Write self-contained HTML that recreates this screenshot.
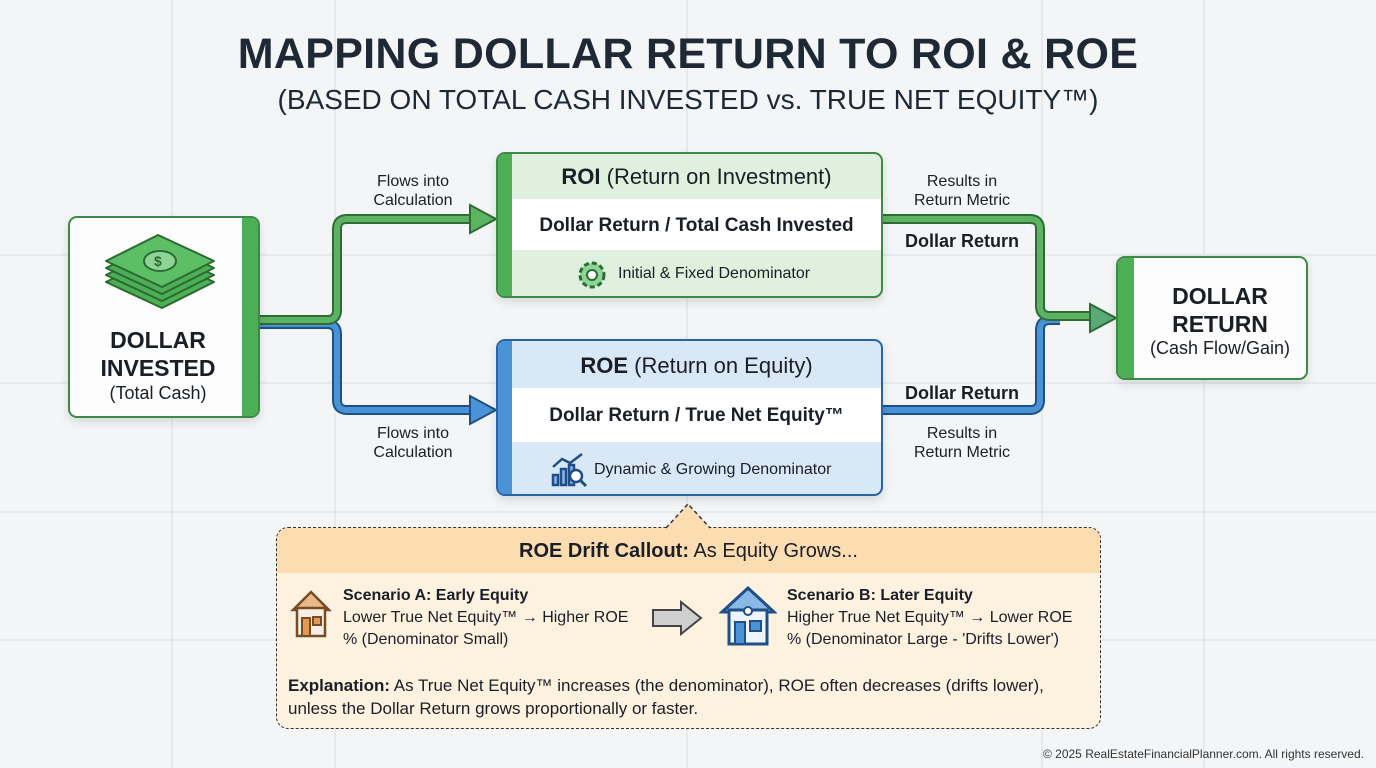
<!DOCTYPE html>
<html><head><meta charset="utf-8">
<style>
*{margin:0;padding:0;box-sizing:border-box}
body{width:1376px;height:768px;overflow:hidden;background:#f3f5f7;font-family:"Liberation Sans",sans-serif;color:#1a1f26;position:relative}
.a{position:absolute}
.c{text-align:center}
.t{white-space:nowrap}
.box{position:absolute;border-radius:9px;overflow:hidden;box-shadow:0 4px 10px rgba(0,0,0,.12)}
</style></head><body>
<svg class="a" style="left:0;top:0" width="1376" height="768">
<g stroke="#e2e6ea" stroke-width="1.5">
<line x1="172" y1="0" x2="172" y2="768"/><line x1="335" y1="0" x2="335" y2="768"/><line x1="687" y1="0" x2="687" y2="768"/><line x1="1042" y1="0" x2="1042" y2="768"/><line x1="1204" y1="0" x2="1204" y2="768"/>
<line x1="0" y1="255" x2="1376" y2="255"/><line x1="0" y1="383" x2="1376" y2="383"/><line x1="0" y1="512" x2="1376" y2="512"/><line x1="0" y1="640" x2="1376" y2="640"/>
</g>
</svg>
<div class="a c t" style="left:0;width:1376px;top:30px;font-size:43px;font-weight:bold;color:#1e2935;letter-spacing:0.3px">MAPPING DOLLAR RETURN TO ROI &amp; ROE</div>
<div class="a c t" style="left:0;width:1376px;top:84px;font-size:28px;color:#1e2935">(BASED ON TOTAL CASH INVESTED vs. TRUE NET EQUITY™)</div>

<svg class="a" style="left:0;top:0" width="1376" height="768">
<g fill="none" stroke-linejoin="round">
<path d="M258 324 H327 Q337 324 337 334 V400 Q337 410 347 410 H472" stroke="#1f4f86" stroke-width="10"/>
<path d="M258 324 H327 Q337 324 337 334 V400 Q337 410 347 410 H472" stroke="#4a93d6" stroke-width="6"/>
<path d="M258 320 H327 Q337 320 337 310 V229 Q337 219 347 219 H472" stroke="#2f6b35" stroke-width="10"/>
<path d="M258 320 H327 Q337 320 337 310 V229 Q337 219 347 219 H472" stroke="#5cb463" stroke-width="6"/>
<path d="M883 410 H1030 Q1040 410 1040 400 V330 Q1040 320 1050 320 H1060" stroke="#1f4f86" stroke-width="10"/>
<path d="M883 410 H1030 Q1040 410 1040 400 V330 Q1040 320 1050 320 H1060" stroke="#4a93d6" stroke-width="6"/>
<path d="M883 219 H1030 Q1040 219 1040 229 V306 Q1040 316 1050 316 H1092" stroke="#2f6b35" stroke-width="10"/>
<path d="M883 219 H1030 Q1040 219 1040 229 V306 Q1040 316 1050 316 H1092" stroke="#5cb463" stroke-width="6"/>
</g>
<polygon points="470,205 496,219 470,233" fill="#5cb463" stroke="#2f6b35" stroke-width="2"/>
<polygon points="470,396 496,410 470,424" fill="#4a93d6" stroke="#1f4f86" stroke-width="2"/>
<polygon points="1090,304 1116,318 1090,332" fill="#5aaa78" stroke="#2f6b35" stroke-width="2"/>
</svg>

<div class="a c t" style="left:340px;width:146px;top:172px;font-size:16px;line-height:19px">Flows into<br>Calculation</div>
<div class="a c t" style="left:340px;width:146px;top:424px;font-size:16px;line-height:19px">Flows into<br>Calculation</div>
<div class="a c t" style="left:890px;width:144px;top:172px;font-size:16px;line-height:19px">Results in<br>Return Metric</div>
<div class="a c t" style="left:890px;width:144px;top:424px;font-size:16px;line-height:19px">Results in<br>Return Metric</div>
<div class="a c t" style="left:890px;width:144px;top:231px;font-size:18px;font-weight:bold">Dollar Return</div>
<div class="a c t" style="left:890px;width:144px;top:383px;font-size:18px;font-weight:bold">Dollar Return</div>

<div class="box" style="left:68px;top:216px;width:192px;height:202px;background:#fbfcfb;border:2px solid #3d8a45">
<div class="a" style="right:0;top:0;width:16px;height:100%;background:#4caf55"></div>
<svg class="a" style="left:32px;top:12px" width="116" height="84" viewBox="0 0 116 84">
<g stroke="#2b6b32" stroke-width="2" stroke-linejoin="round">
<polygon points="4,52 60,78 112,52 56,26" fill="#4caf55"/>
<polygon points="4,45 60,71 112,45 56,19" fill="#4caf55"/>
<polygon points="4,38 60,64 112,38 56,12" fill="#4caf55"/>
<polygon points="4,31 60,57 112,31 56,5" fill="#5cbf66"/>
<ellipse cx="58" cy="31" rx="16" ry="10" fill="#8fd497"/>
</g>
<text x="52" y="36" font-size="14" font-weight="bold" fill="#2b6b32" font-family="Liberation Sans">$</text>
</svg>
<div class="a c t" style="left:0;width:176px;top:108px;font-size:23px;font-weight:bold;line-height:28px">DOLLAR<br>INVESTED</div>
<div class="a c t" style="left:0;width:176px;top:165px;font-size:18px">(Total Cash)</div>
</div>

<div class="box" style="left:496px;top:152px;width:387px;height:146px;background:#e0f0de;border:2px solid #3d8a45">
<div class="a" style="left:0;top:0;width:14px;height:100%;background:#4caf55"></div>
<div class="a" style="left:14px;right:0;top:45px;height:51px;background:#fff"></div>
<div class="a c t" style="left:14px;right:0;top:10px;font-size:22px"><b>ROI</b> (Return on Investment)</div>
<div class="a c t" style="left:14px;right:0;top:61px;font-size:19px;font-weight:bold">Dollar Return / Total Cash Invested</div>
<svg class="a" style="left:76px;top:103px" width="36" height="36" viewBox="0 0 36 36"><circle cx="18" cy="18" r="12" fill="#8fd497" stroke="#2b6b32" stroke-width="3" stroke-dasharray="5 3"/><circle cx="18" cy="18" r="5" fill="#fff" stroke="#2b6b32" stroke-width="2"/></svg>
<div class="a t" style="left:120px;top:111px;font-size:16px">Initial &amp; Fixed Denominator</div>
</div>

<div class="box" style="left:496px;top:339px;width:387px;height:157px;background:#d8e8f7;border:2px solid #2a64a8">
<div class="a" style="left:0;top:0;width:14px;height:100%;background:#4a93d6"></div>
<div class="a" style="left:14px;right:0;top:47px;height:54px;background:#fff"></div>
<div class="a c t" style="left:14px;right:0;top:12px;font-size:22px"><b>ROE</b> (Return on Equity)</div>
<div class="a c t" style="left:14px;right:0;top:64px;font-size:19px;font-weight:bold">Dollar Return / True Net Equity™</div>
<svg class="a" style="left:52px;top:110px" width="38" height="38" viewBox="0 0 38 38"><g stroke="#1f4f86" stroke-width="2.5" fill="#8ab8e6"><rect x="3" y="24" width="5" height="10"/><rect x="11" y="18" width="5" height="16"/><rect x="19" y="14" width="5" height="20"/></g><polyline points="3,16 12,8 20,12 32,3" fill="none" stroke="#1f4f86" stroke-width="2.5"/><circle cx="26" cy="25" r="6" fill="#fff" stroke="#1f4f86" stroke-width="2.5"/><line x1="30" y1="29" x2="36" y2="35" stroke="#1f4f86" stroke-width="3"/></svg>
<div class="a t" style="left:96px;top:120px;font-size:16px">Dynamic &amp; Growing Denominator</div>
</div>

<div class="box" style="left:1116px;top:256px;width:192px;height:124px;background:#fbfcfb;border:2px solid #3d8a45">
<div class="a" style="left:0;top:0;width:16px;height:100%;background:#4caf55"></div>
<div class="a c t" style="left:16px;right:0;top:24px;font-size:23px;font-weight:bold;line-height:28px">DOLLAR<br>RETURN</div>
<div class="a c t" style="left:16px;right:0;top:80px;font-size:18px">(Cash Flow/Gain)</div>
</div>

<div class="a" style="left:276px;top:527px;width:825px;height:202px;background:#fdf1e0;border:1.5px dashed #333;border-radius:12px;overflow:hidden">
<div class="a" style="left:0;top:0;width:100%;height:45px;background:#fcdcb1"></div>
<div class="a c t" style="left:0;width:100%;top:12px;font-size:20px"><b>ROE Drift Callout:</b> As Equity Grows...</div>
<svg class="a" style="left:12px;top:60px" width="44" height="52" viewBox="0 0 44 52"><polygon points="4,22 22,4 40,22" fill="#e8b98a" stroke="#7a4a22" stroke-width="2.5"/><rect x="8" y="20" width="28" height="28" fill="#f7efe6" stroke="#7a4a22" stroke-width="2.5"/><rect x="13" y="30" width="8" height="18" fill="#e09a52" stroke="#7a4a22" stroke-width="2"/><rect x="24" y="29" width="8" height="8" fill="#e09a52" stroke="#7a4a22" stroke-width="2"/></svg>
<div class="a t" style="left:66px;top:57px;font-size:16px;line-height:22px"><b>Scenario A: Early Equity</b><br>Lower True Net Equity™ → Higher ROE<br>% (Denominator Small)</div>
<svg class="a" style="left:374px;top:72px" width="52" height="36" viewBox="0 0 52 36"><polygon points="2,10 30,10 30,2 50,18 30,34 30,26 2,26" fill="#d0d0d0" stroke="#444" stroke-width="2"/></svg>
<svg class="a" style="left:442px;top:56px" width="58" height="62" viewBox="0 0 58 62"><polygon points="3,28 29,4 55,28" fill="#8ab8e6" stroke="#1f4f86" stroke-width="3"/><rect x="10" y="26" width="38" height="34" fill="#eef4fb" stroke="#1f4f86" stroke-width="3"/><rect x="16" y="38" width="10" height="22" fill="#4a93d6" stroke="#1f4f86" stroke-width="2"/><rect x="31" y="37" width="11" height="10" fill="#4a93d6" stroke="#1f4f86" stroke-width="2"/><circle cx="29" cy="27" r="4" fill="#fff" stroke="#1f4f86" stroke-width="2"/></svg>
<div class="a t" style="left:510px;top:57px;font-size:16px;line-height:22px"><b>Scenario B: Later Equity</b><br>Higher True Net Equity™ → Lower ROE<br>% (Denominator Large - 'Drifts Lower')</div>
<div class="a t" style="left:11px;top:146px;font-size:17px;line-height:23px"><b>Explanation:</b> As True Net Equity™ increases (the denominator), ROE often decreases (drifts lower),<br>unless the Dollar Return grows proportionally or faster.</div>
</div>
<svg class="a" style="left:660px;top:502px" width="56" height="28"><polygon points="6,26 28,2 50,26" fill="#fcdcb1"/><polyline points="6,26 28,2 50,26" fill="none" stroke="#333" stroke-width="1.5" stroke-dasharray="4 3"/></svg>

<div class="a t" style="right:12px;top:747px;font-size:12px;color:#333">© 2025 RealEstateFinancialPlanner.com. All rights reserved.</div>
</body></html>
